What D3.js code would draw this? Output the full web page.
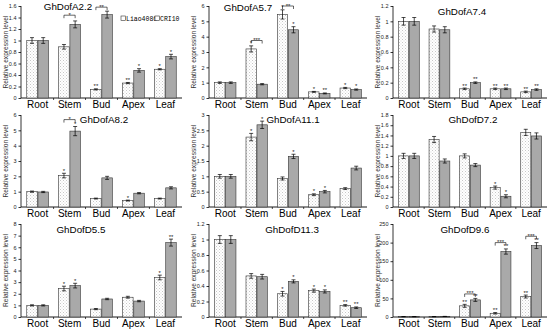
<!DOCTYPE html>
<html lang="en">
<head>
<meta charset="utf-8">
<title>Dof expression</title>
<script src="https://cdn.jsdelivr.net/npm/d3@7"></script>
<style>
  body { margin: 0; background: #fff; }
  svg { display: block; font-family: Arial, "Liberation Sans", sans-serif; }
  .axis path, .axis line { stroke: #000; stroke-width: 0.8; }
  .axis text { font-size: 5.5px; fill: #222; }
</style>
</head>
<body>
<script>
// tissues and genes
let tissues = ["Root", "Stem", "Bud", "Apex", "Leaf"]
let genes = ["GhDofA2.2", "GhDofA5.7", "GhDofA7.4", "GhDofA8.2", "GhDofA11.1", "GhDofD7.2", "GhDofD5.5", "GhDofD11.3", "GhDofD9.6"]
let yMax = [1.6, 6, 1.2, 6, 3, 1.8, 8, 1.2, 250]
let yStep = [0.2, 1, 0.2, 1, 0.5, 0.2, 1, 0.2, 50]

// relative expression, Liao4086 (light) and CRI10 (dark)
let liao = [
  [1.0, 0.89, 0.15, 0.26, 0.50],
  [1.0, 3.2, 5.45, 0.4, 0.65],
  [1.0, 0.9, 0.12, 0.12, 0.08],
  [1.0, 2.05, 0.55, 0.42, 0.55],
  [1.0, 2.28, 0.93, 0.4, 0.6],
  [1.0, 1.32, 1.0, 0.38, 1.46],
  [1.0, 2.45, 0.68, 1.7, 3.4],
  [1.0, 0.53, 0.3, 0.34, 0.15],
  [1.0, 1.0, 30, 10, 55]
]
let cri = [
  [1.0, 1.28, 1.45, 0.48, 0.72],
  [1.0, 0.9, 4.45, 0.3, 0.55],
  [1.0, 0.89, 0.2, 0.12, 0.11],
  [0.98, 4.95, 1.9, 0.9, 1.25],
  [1.0, 2.68, 1.65, 0.5, 1.27],
  [1.0, 0.9, 0.82, 0.21, 1.39],
  [1.0, 2.7, 1.55, 1.37, 6.4],
  [1.0, 0.52, 0.46, 0.33, 0.12],
  [1.0, 1.5, 46, 176, 192]
]
// error bars
let liaoErr = [
  [0.05, 0.04, 0.01, 0.01, 0.01],
  [0.05, 0.2, 0.3, 0.03, 0.04],
  [0.05, 0.04, 0.01, 0.01, 0.01],
  [0.04, 0.15, 0.03, 0.03, 0.03],
  [0.06, 0.12, 0.05, 0.03, 0.03],
  [0.05, 0.06, 0.04, 0.03, 0.06],
  [0.05, 0.2, 0.05, 0.08, 0.2],
  [0.05, 0.03, 0.03, 0.02, 0.01],
  [0.2, 0.2, 4, 2, 4]
]
let criErr = [
  [0.05, 0.06, 0.06, 0.03, 0.04],
  [0.05, 0.04, 0.2, 0.03, 0.04],
  [0.05, 0.04, 0.01, 0.01, 0.01],
  [0.04, 0.3, 0.1, 0.04, 0.07],
  [0.06, 0.12, 0.07, 0.04, 0.06],
  [0.05, 0.04, 0.03, 0.03, 0.06],
  [0.05, 0.2, 0.06, 0.06, 0.3],
  [0.05, 0.03, 0.02, 0.02, 0.01],
  [0.2, 0.2, 4, 7, 8]
]
// significance stars above each bar
let liaoSig = [
  ["", "", "**", "**", "*"],
  ["", "*", "*", "*", "*"],
  ["", "", "**", "**", "**"],
  ["", "*", "", "*", ""],
  ["", "*", "", "*", ""],
  ["", "", "", "*", ""],
  ["", "*", "", "", "*"],
  ["", "", "*", "*", "**"],
  ["", "", "**", "**", "**"]
]
let criSig = [
  ["", "", "", "*", "*"],
  ["", "", "*", "**", "*"],
  ["", "", "**", "**", "**"],
  ["", "*", "", "", ""],
  ["", "*", "*", "*", ""],
  ["", "", "", "*", ""],
  ["", "*", "", "", "**"],
  ["", "", "*", "*", "**"],
  ["", "", "**", "**", "**"]
]
// brackets between the two cultivars: [gene, tissue, level, label]
let brackets = [
  [0, 1, 1.44, "*"], [0, 2, 1.58, "**"],
  [1, 1, 3.75, "***"], [1, 2, 6.0, "**"],
  [3, 1, 5.7, "*"],
  [8, 2, 62, "***"], [8, 3, 200, "***"], [8, 4, 217, "***"]
]

let W = 550, H = 329
let axisX = [21, 209, 393]
let rightX = [182, 367, 547]
let baseY = [98, 207, 317]
let topY = [6, 115, 224]
let titleX = [68, 248, 462, 104, 293, 473, 81, 292, 465]
let titleY = [10, 10.5, 14.5, 122.5, 122.5, 123, 233, 233, 233]

let svg = d3.select("body").append("svg").attr("width", W).attr("height", H)

let defs = svg.append("defs")
let pat = defs.append("pattern").attr("id", "dots")
  .attr("patternUnits", "userSpaceOnUse").attr("width", 3).attr("height", 3)
pat.append("rect").attr("width", 3).attr("height", 3).attr("fill", "#fff")
pat.append("rect").attr("x", 0).attr("y", 0).attr("width", 1).attr("height", 1).attr("fill", "#c8c8c8")
pat.append("rect").attr("x", 1.5).attr("y", 1.5).attr("width", 1).attr("height", 1).attr("fill", "#d8d8d8")

let fmt = d => +d.toFixed(2)

genes.forEach(function(gene, g) {
  let col = g % 3, row = Math.floor(g / 3)
  let x0 = axisX[col], x1 = rightX[col], yb = baseY[row], yt = topY[row]

  let x = d3.scaleBand().domain(tissues).range([x0, x1]).paddingInner(0.32).paddingOuter(0.18)
  let sub = d3.scaleBand().domain([0, 1]).range([0, x.bandwidth()]).paddingInner(0.06)
  let y = d3.scaleLinear().domain([0, yMax[g]]).range([yb, yt])

  let p = svg.append("g")

  let yAxis = d3.axisLeft(y).tickValues(d3.range(0, yMax[g] + yStep[g] / 2, yStep[g]))
    .tickFormat(fmt).tickSize(2.5).tickPadding(2)
  p.append("g").attr("class", "axis").attr("transform", "translate(" + x0 + ",0)").call(yAxis)
    .select(".domain").attr("d", "M0," + yt + "V" + yb)

  // x axis line with small ticks at band boundaries
  p.append("line").attr("x1", x0).attr("x2", x1).attr("y1", yb).attr("y2", yb)
    .attr("stroke", "#000").attr("stroke-width", 0.9)
  let step = x.step()
  tissues.slice(1).forEach(function(t) {
    let bx = x(t) - step * x.paddingInner() / 2
    p.append("line").attr("x1", bx).attr("x2", bx).attr("y1", yb).attr("y2", yb + 2)
      .attr("stroke", "#000").attr("stroke-width", 0.7)
  })
  tissues.forEach(function(t) {
    p.append("text").attr("x", x(t) + x.bandwidth() / 2).attr("y", yb + 9.5)
      .attr("text-anchor", "middle").attr("font-size", 10).attr("fill", "#000").text(t)
  })

  // y title
  p.append("text").attr("transform", "translate(" + (x0 - 13) + "," + ((yb + yt) / 2) + ") rotate(-90)")
    .attr("text-anchor", "middle").attr("font-size", 6.6).attr("fill", "#333")
    .text("Relative expression level")

  // gene title
  p.append("text").attr("x", titleX[g]).attr("y", titleY[g]).attr("text-anchor", "middle")
    .attr("font-size", 9.8).attr("fill", "#000").text(gene)

  let series = [
    {vals: liao[g], err: liaoErr[g], sig: liaoSig[g], fill: "url(#dots)"},
    {vals: cri[g], err: criErr[g], sig: criSig[g], fill: "#a9a9a9"}
  ]
  series.forEach(function(s, k) {
    tissues.forEach(function(t, i) {
      let bx = x(t) + sub(k), bw = sub.bandwidth(), v = s.vals[i], e = s.err[i]
      p.append("rect").attr("x", bx).attr("y", y(v)).attr("width", bw)
        .attr("height", Math.max(0.5, yb - y(v)))
        .attr("fill", s.fill).attr("stroke", "#333").attr("stroke-width", 0.6)
      let cx = bx + bw / 2
      p.append("line").attr("x1", cx).attr("x2", cx).attr("y1", y(v - e)).attr("y2", y(v + e))
        .attr("stroke", "#000").attr("stroke-width", 0.7)
      ;[v - e, v + e].forEach(function(vv) {
        p.append("line").attr("x1", cx - 2).attr("x2", cx + 2).attr("y1", y(vv)).attr("y2", y(vv))
          .attr("stroke", "#000").attr("stroke-width", 0.7)
      })
      if (s.sig[i]) {
        p.append("text").attr("x", cx).attr("y", y(v + e) - 0.5).attr("text-anchor", "middle")
          .attr("font-size", 6).attr("fill", "#222").text(s.sig[i])
      }
    })
  })

  brackets.filter(b => b[0] === g).forEach(function(b) {
    let t = tissues[b[1]]
    let ax = x(t) + sub(0) + sub.bandwidth() / 2, bx = x(t) + sub(1) + sub.bandwidth() / 2
    let by = y(b[2])
    p.append("path").attr("d", "M" + ax + "," + (by + 3) + "V" + by + "H" + bx + "V" + (by + 3))
      .attr("fill", "none").attr("stroke", "#000").attr("stroke-width", 0.6)
    p.append("text").attr("x", (ax + bx) / 2).attr("y", by + 1.5).attr("text-anchor", "middle")
      .attr("font-size", 6).attr("fill", "#222").text(b[3])
  })
})

// legend
let leg = svg.append("g").attr("font-family", "'Liberation Mono', 'DejaVu Sans Mono', monospace")
  .attr("font-size", 6.5)
leg.append("rect").attr("x", 121).attr("y", 16).attr("width", 4.5).attr("height", 4.5)
  .attr("fill", "#fff").attr("stroke", "#333").attr("stroke-width", 0.6)
leg.append("text").attr("x", 126).attr("y", 21).text("Liao4086")
leg.append("rect").attr("x", 155).attr("y", 16).attr("width", 4.5).attr("height", 4.5)
  .attr("fill", "#fff").attr("stroke", "#333").attr("stroke-width", 0.6)
leg.append("text").attr("x", 160).attr("y", 21).text("CRI10")
</script>
</body>
</html>
